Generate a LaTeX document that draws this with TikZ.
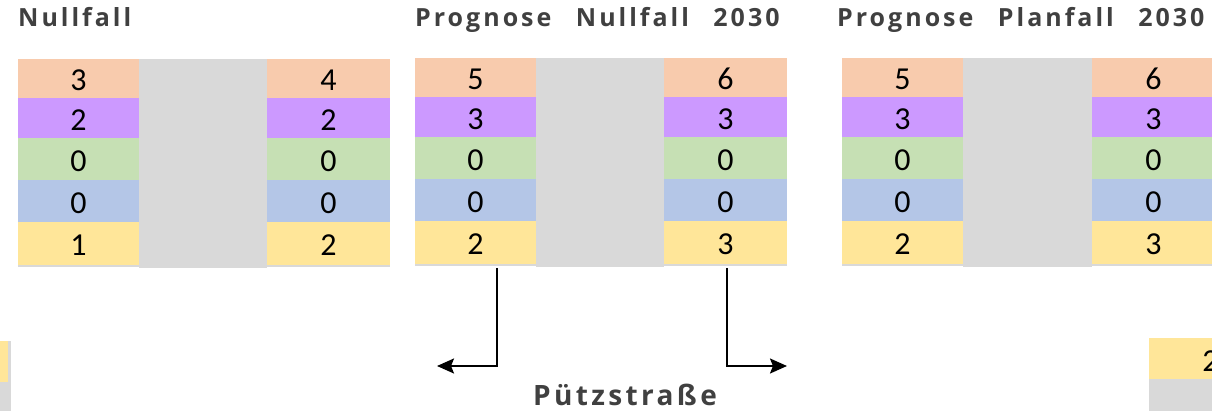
\documentclass[tikz,border=0pt]{standalone}
\usepackage{fontspec}
\setmainfont{Carlito}
\newfontfamily\titlefont{Open Sans}[LetterSpace=12,WordSpace=2]
\newfontfamily\streetfont{Open Sans}[LetterSpace=12]
\newcommand\wgap{\hspace{15pt}}
\usetikzlibrary{arrows.meta}
\definecolor{cOr}{HTML}{F8CBAD}
\definecolor{cPu}{HTML}{CC99FF}
\definecolor{cGr}{HTML}{C6E0B4}
\definecolor{cBl}{HTML}{B4C6E7}
\definecolor{cYe}{HTML}{FFE699}
\definecolor{cGy}{HTML}{D9D9D9}
\definecolor{cTx}{HTML}{404040}
\tikzset{
  cell/.style={rectangle, inner sep=0pt, outer sep=0pt, anchor=north west,
    font=\fontsize{32}{32}\selectfont, text=black, text height=25pt, text depth=0pt},
  midcol/.style={rectangle, inner sep=0pt, outer sep=0pt, anchor=north west, fill=cGy},
  titletext/.style={anchor=base west, inner sep=0pt, text=cTx,
    font=\titlefont\bfseries\fontsize{25}{25}\selectfont},
  streettext/.style={anchor=base west, inner sep=0pt, text=cTx,
    font=\streetfont\bfseries\fontsize{28}{28}\selectfont},
  conn/.style={line width=2pt, black, -{Stealth[length=17pt,width=15pt,inset=3pt]}}
}
\newcommand\drawtable[7]{%
  \node[midcol, minimum width={#4-#3}, minimum height=209] (#1m) at (#3,#6) {};
  \foreach \y/\h/\c/\a/\b [count=\i] in {#7} {
    \node[cell, fill=\c, minimum width={#3-#2}, minimum height=\h] (#1l\i) at (#2,#6+\y) {\a};
    \node[cell, fill=\c, minimum width={#5-#4}, minimum height=\h] (#1r\i) at (#4,#6+\y) {\b};
  }
  \node[midcol, minimum width={#5-#2}, minimum height=2.5] (#1b) at (#2,#6+206) {};
}
\begin{document}
\begin{tikzpicture}[x=1pt,y=-1pt]
\useasboundingbox (0,0) rectangle (1212,411);
\clip (0,0) rectangle (1212,411);
% titles
\node[titletext] (title1) at (18,27) {Nullfall};
\node[titletext] (title2) at (415,27) {Prognose\wgap{} Nullfall\wgap{} 2030};
\node[titletext] (title3) at (837,27) {Prognose\wgap{} Planfall\wgap{} 2030};
% tables
\drawtable{ta}{18}{139}{267}{390}{59}{0/39/cOr/3/4, 39/40/cPu/2/2, 79/42/cGr/0/0, 121/42/cBl/0/0, 163/43/cYe/1/2}
\drawtable{tb}{415}{536}{664}{787}{58}{0/39/cOr/5/6, 39/40/cPu/3/3, 79/42/cGr/0/0, 121/42/cBl/0/0, 163/43/cYe/2/3}
\drawtable{tc}{842}{963}{1092}{1215}{58}{0/39/cOr/5/6, 39/40/cPu/3/3, 79/42/cGr/0/0, 121/42/cBl/0/0, 163/43/cYe/2/3}
% cut-off pieces at the bottom edges
\node[midcol, minimum width=11, minimum height=70] (pl) at (0,341) {};
\node[cell, fill=cYe, minimum width=8, minimum height=41] (ply) at (0,341) {};
\node[cell, fill=cYe, minimum width=123, minimum height=41] (pry) at (1149,338) {2};
\node[midcol, minimum width=123, minimum height=40] (prg) at (1149,379) {};
% arrows
\coordinate (s1) at (497,268);
\coordinate (e1) at (437,366);
\coordinate (s2) at (727,268);
\coordinate (e2) at (787,366);
\draw[conn] (s1) |- (e1);
\draw[conn] (s2) |- (e2);
% street name
\node[streettext] (street) at (533,405) {Pützstraße};
\end{tikzpicture}
\end{document}
